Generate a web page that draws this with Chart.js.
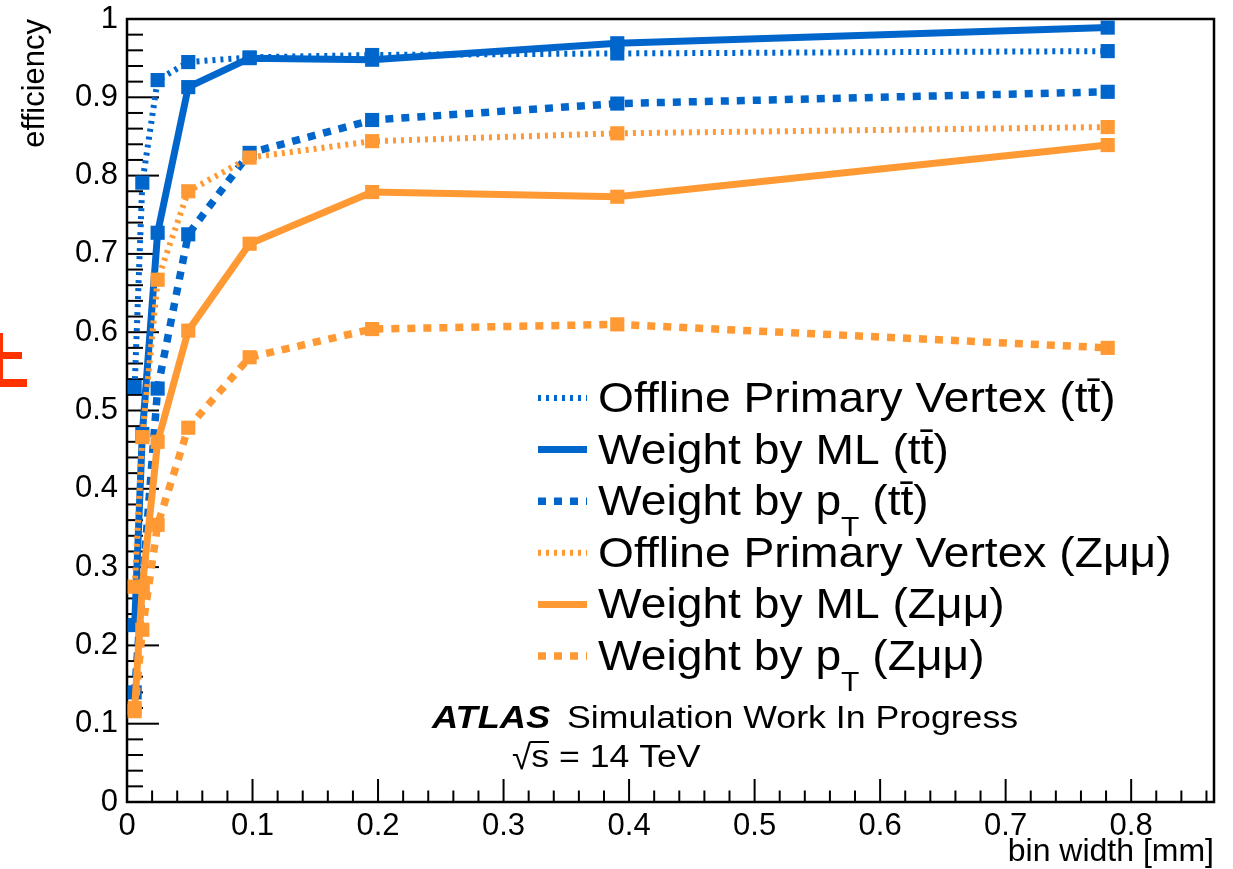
<!DOCTYPE html>
<html lang="en">
<head>
<meta charset="UTF-8">
<title>efficiency vs bin width</title>
<script src="https://cdn.jsdelivr.net/npm/chart.js"></script>
<style>
  body { margin: 0; background: #fff; }
  #wrap { width: 1233px; height: 869px; }
</style>
</head>
<body>
<div id="wrap"><canvas id="effChart" width="1233" height="869"></canvas></div>
<script>
// bin widths [mm]
const binWidth = [0.0061, 0.0122, 0.0244, 0.0488, 0.0977, 0.1953, 0.3906, 0.7813];

// efficiencies
const offlineTT = [0.530, 0.791, 0.922, 0.945, 0.951, 0.954, 0.956, 0.959];
const mlTT      = [0.226, 0.470, 0.727, 0.913, 0.950, 0.948, 0.969, 0.989];
const ptTT      = [0.140, 0.275, 0.528, 0.725, 0.829, 0.871, 0.892, 0.907];
const offlineZ  = [0.275, 0.466, 0.667, 0.780, 0.823, 0.844, 0.854, 0.862];
const mlZ       = [0.120, 0.275, 0.460, 0.602, 0.713, 0.779, 0.773, 0.839];
const ptZ       = [0.116, 0.220, 0.354, 0.478, 0.568, 0.604, 0.610, 0.580];

const seriesLabels = [
    'Offline Primary Vertex (tt\u0304)',
    'Weight by ML (tt\u0304)',
    'Weight by p_{T} (tt\u0304)',
    'Offline Primary Vertex (Z\u03bc\u03bc)',
    'Weight by ML (Z\u03bc\u03bc)',
    'Weight by p_{T} (Z\u03bc\u03bc)'
];

const xTickLabels = ['0', '0.1', '0.2', '0.3', '0.4', '0.5', '0.6', '0.7', '0.8'];
const yTickLabels = ['0', '0.1', '0.2', '0.3', '0.4', '0.5', '0.6', '0.7', '0.8', '0.9', '1'];

const BLUE = '#0066cc';
const ORANGE = '#ff9933';
const FONT = "'Liberation Sans', Arial, Helvetica, sans-serif";

function pts(ys) {
    return ys.map((y, i) => ({ x: binWidth[i], y: y }));
}

function makeSet(i, ys, color, kind) {
    const st = {
        dotted: { w: 6, dash: [3, 5] },
        solid:  { w: 7, dash: [] },
        dashed: { w: 7.5, dash: [8, 8] }
    }[kind];
    return {
        label: seriesLabels[i],
        data: pts(ys),
        borderColor: color,
        backgroundColor: color,
        borderWidth: st.w,
        borderDash: st.dash,
        pointStyle: 'rect',
        pointRadius: 10,
        pointBorderWidth: 0,
        pointBackgroundColor: color,
        tension: 0,
        fill: false,
        clip: false,
        order: 6 - i
    };
}

// label on every 0.1, nothing on minor ticks
function majorLabel(v, list) {
    const k = Math.round(v * 10);
    return Math.abs(v * 10 - k) < 1e-6 ? (list[k] || '') : '';
}

// text with a bit of horizontal stretch (the original canvas is wider than tall)
function stretchText(ctx, text, x, y, font, sx) {
    ctx.save();
    ctx.font = font;
    const w = ctx.measureText(text).width * sx;
    ctx.translate(x, y);
    ctx.scale(sx, 1);
    ctx.fillText(text, 0, 0);
    ctx.restore();
    return w;
}

// no extra room for labels sticking out, the frame is fixed
function fixPadding(s) {
    s.paddingTop = 0;
    s.paddingBottom = 0;
    s.paddingLeft = 0;
    s.paddingRight = 0;
}

// frame + inward ticks, ROOT style
const frameTicks = {
    id: 'frameTicks',
    beforeDatasetsDraw(chart) {
        const { ctx, chartArea: a, scales } = chart;
        ctx.save();
        ctx.strokeStyle = '#000';
        ctx.lineWidth = 2;
        scales.x.ticks.forEach(t => {
            const px = scales.x.getPixelForValue(t.value);
            const len = t.label !== '' ? 23 : 11.5;
            ctx.beginPath();
            ctx.moveTo(px, a.bottom);
            ctx.lineTo(px, a.bottom - len);
            ctx.stroke();
        });
        scales.y.ticks.forEach(t => {
            const py = scales.y.getPixelForValue(t.value);
            const len = t.label !== '' ? 32 : 16;
            ctx.beginPath();
            ctx.moveTo(a.left, py);
            ctx.lineTo(a.left + len, py);
            ctx.stroke();
        });
        ctx.lineWidth = 2.5;
        ctx.strokeRect(a.left, a.top, a.right - a.left, a.bottom - a.top);
        ctx.restore();
    }
};

// legend box and ATLAS label
const overlay = {
    id: 'overlay',
    afterDraw(chart) {
        const ctx = chart.ctx;
        ctx.save();
        ctx.textBaseline = 'alphabetic';
        ctx.fillStyle = '#000';

        const size = 42, sx = 1.1;
        chart.data.datasets.forEach((ds, i) => {
            const yc = 398 + i * 51.6;
            ctx.save();
            ctx.strokeStyle = ds.borderColor;
            ctx.lineWidth = ds.borderWidth;
            ctx.setLineDash(ds.borderDash || []);
            ctx.beginPath();
            ctx.moveTo(538, yc);
            ctx.lineTo(587, yc);
            ctx.stroke();
            ctx.restore();

            const parts = ds.label.split(/_\{([^}]*)\}/);
            let x = 598;
            parts.forEach((p, k) => {
                if (k % 2 === 1) {
                    x += stretchText(ctx, p, x, yc + 14 + size * 0.5, (size * 0.65) + 'px ' + FONT, sx);
                } else {
                    x += stretchText(ctx, p, x, yc + 14, size + 'px ' + FONT, sx);
                }
            });
        });

        // ATLAS Simulation Work In Progress
        stretchText(ctx, 'ATLAS', 432, 728, 'italic bold 31px ' + FONT, 1.17);
        stretchText(ctx, 'Simulation Work In Progress', 567, 728, '31px ' + FONT, 1.15);
        let x = 512;
        const wr = stretchText(ctx, '\u221a', x, 769, '35px ' + FONT, 1.0);
        const ws = stretchText(ctx, 's', x + wr, 767, '31px ' + FONT, 1.15);
        ctx.fillRect(x + wr - 1, 767 - 26, ws + 1, 2);
        stretchText(ctx, ' = 14 TeV', x + wr + ws, 767, '31px ' + FONT, 1.15);

        // cut-off red glyph at the left border
        ctx.fillStyle = '#ff3300';
        ctx.fillRect(0, 333, 3, 54);
        ctx.fillRect(0, 352, 22, 7);
        ctx.fillRect(0, 379, 27, 8);
        ctx.restore();
    }
};

new Chart(document.getElementById('effChart'), {
    type: 'line',
    data: {
        datasets: [
            makeSet(0, offlineTT, BLUE, 'dotted'),
            makeSet(1, mlTT, BLUE, 'solid'),
            makeSet(2, ptTT, BLUE, 'dashed'),
            makeSet(3, offlineZ, ORANGE, 'dotted'),
            makeSet(4, mlZ, ORANGE, 'solid'),
            makeSet(5, ptZ, ORANGE, 'dashed')
        ]
    },
    options: {
        responsive: false,
        animation: false,
        devicePixelRatio: 1,
        layout: { padding: { top: 19, right: 19, left: 0, bottom: 0 } },
        plugins: { legend: { display: false }, tooltip: { enabled: false } },
        scales: {
            x: {
                type: 'linear',
                min: 0,
                max: 0.866,
                grid: { display: false, drawTicks: false },
                border: { display: false },
                ticks: {
                    stepSize: 0.02,
                    includeBounds: false,
                    autoSkip: false,
                    maxRotation: 0,
                    padding: 6,
                    color: '#000',
                    font: { family: FONT, size: 31 },
                    callback: v => majorLabel(v, xTickLabels)
                },
                title: {
                    display: true,
                    text: 'bin width [mm]',
                    align: 'end',
                    color: '#000',
                    font: { family: FONT, size: 32, lineHeight: 1 },
                    padding: { top: 0, bottom: 1 }
                },
                afterFit: s => { s.height = 67; fixPadding(s); }
            },
            y: {
                min: 0,
                max: 1,
                grid: { display: false, drawTicks: false },
                border: { display: false },
                ticks: {
                    stepSize: 0.02,
                    autoSkip: false,
                    padding: 9,
                    color: '#000',
                    font: { family: FONT, size: 31 },
                    callback: v => majorLabel(v, yTickLabels)
                },
                title: {
                    display: true,
                    text: 'efficiency',
                    align: 'end',
                    color: '#000',
                    font: { family: FONT, size: 31, lineHeight: 1 },
                    padding: { top: 20, bottom: 0 }
                },
                afterFit: s => { s.width = 127; fixPadding(s); }
            }
        }
    },
    plugins: [frameTicks, overlay]
});
</script>
</body>
</html>
